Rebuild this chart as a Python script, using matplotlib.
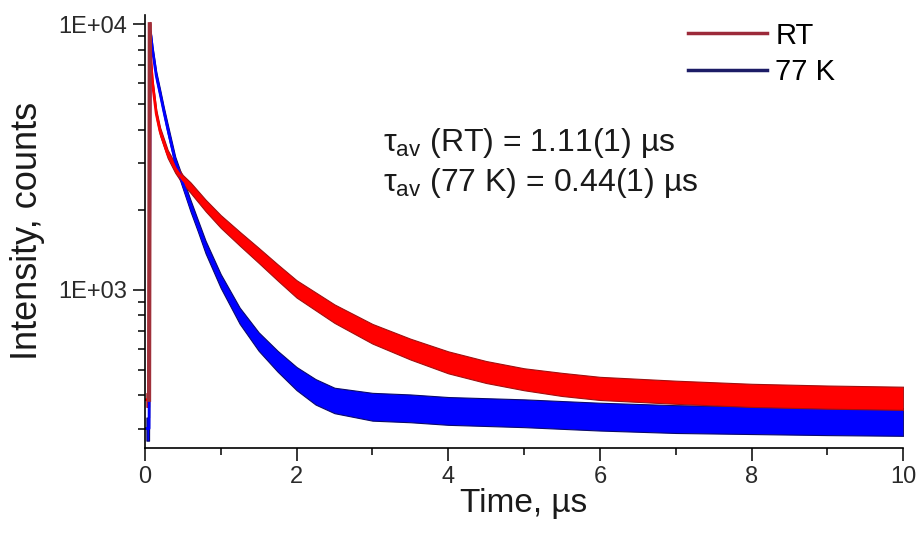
import matplotlib
matplotlib.use("Agg")
import matplotlib.pyplot as plt
from matplotlib.lines import Line2D
from matplotlib.ticker import FixedLocator, FixedFormatter, LogLocator, MultipleLocator, NullFormatter

plt.rcParams["font.family"] = ["Liberation Sans", "DejaVu Sans"]
plt.rcParams["mathtext.fontset"] = "custom"
plt.rcParams["mathtext.rm"] = "Liberation Sans"

# values (time in us, intensity in counts)
t_rt = [0.02, 0.055, 0.065, 0.08, 0.1, 0.15, 0.2, 0.3, 0.4, 0.5, 0.6, 0.8, 1.0,
        1.25, 1.5, 1.75, 2.0, 2.5, 3.0, 3.5, 4.0, 4.5, 5.0, 5.5, 6.0, 7.0, 8.0, 9.0, 10.0]
rt_counts = [385, 385, 10000, 7200, 6000, 4600, 3950, 3250, 2870, 2600, 2430, 2080, 1810,
             1560, 1350, 1165, 1010, 815, 685, 600, 535, 492, 462, 442, 427, 413, 402, 396, 392]
# half-width of the noise band, as a fraction of the counts
rt_spread = [0.06, 0.06, 0.02, 0.04, 0.04, 0.035, 0.035, 0.035, 0.04, 0.04, 0.045, 0.05, 0.055,
             0.06, 0.065, 0.07, 0.075, 0.08, 0.085, 0.09, 0.095, 0.095, 0.095, 0.1, 0.1, 0.1, 0.1, 0.1, 0.1]

t_77k = [0.02, 0.055, 0.07, 0.08, 0.1, 0.15, 0.2, 0.25, 0.3, 0.4, 0.5, 0.6, 0.7, 0.8, 1.0,
         1.25, 1.5, 1.75, 2.0, 2.25, 2.5, 3.0, 3.5, 4.0, 5.0, 6.0, 7.0, 8.0, 9.0, 10.0]
k77_counts = [300, 300, 9300, 9000, 8000, 6400, 5500, 4700, 4050, 3050, 2520, 2080, 1740, 1450, 1080,
              800, 640, 540, 465, 415, 385, 365, 360, 352, 345, 335, 328, 325, 322, 320]
k77_spread = [0.1, 0.1, 0.02, 0.03, 0.035, 0.035, 0.035, 0.035, 0.04, 0.04, 0.045, 0.05, 0.05, 0.055, 0.06,
              0.07, 0.08, 0.09, 0.1, 0.11, 0.11, 0.12, 0.12, 0.12, 0.12, 0.12, 0.12, 0.12, 0.12, 0.12]

fig, ax = plt.subplots(figsize=(9.17, 5.33), dpi=100)
fig.subplots_adjust(left=0.158, right=0.985, bottom=0.16, top=0.972)

series = [
    (t_77k, k77_counts, k77_spread, "#0000ff", "#0a0a6a"),
    (t_rt, rt_counts, rt_spread, "#ff0000", "#a01010"),
]
for t, y, s, face, edge in series:
    low = [v * (1 - f) for v, f in zip(y, s)]
    high = [v * (1 + f) for v, f in zip(y, s)]
    ax.fill_between(t, low, high, facecolor=face, edgecolor=edge, linewidth=0.8)
    ax.plot(t, y, color=face, lw=2.0)
# the rise edge of RT is drawn dark on top
ax.plot(t_rt[1:3], rt_counts[1:3], color="#a0303a", lw=3.0)

ax.set_yscale("log")
ax.set_xlim(0, 10)
ax.set_ylim(254, 10840)

ax.yaxis.set_major_locator(FixedLocator([1e3, 1e4]))
ax.yaxis.set_major_formatter(FixedFormatter(["1E+03", "1E+04"]))
ax.yaxis.set_minor_locator(LogLocator(base=10, subs=range(2, 10)))
ax.yaxis.set_minor_formatter(NullFormatter())
ax.xaxis.set_major_locator(MultipleLocator(2))
ax.xaxis.set_minor_locator(MultipleLocator(1))

for side in ["top", "right"]:
    ax.spines[side].set_visible(False)
for side in ["left", "bottom"]:
    ax.spines[side].set_linewidth(1.2)
ax.tick_params(which="major", direction="out", length=9, width=1.1, labelsize=17,
               labelcolor="#2a2a2a", pad=4)
ax.tick_params(which="minor", direction="out", length=5, width=1.1)

ax.set_xlabel("Time, µs", fontsize=24, labelpad=0, color="#1a1a1a")
ax.set_ylabel("Intensity, counts", fontsize=26, color="#1a1a1a")
ax.yaxis.set_label_coords(-0.132, 0.5)

handles = [Line2D([], [], color="#9c2a3a", lw=2.5), Line2D([], [], color="#1c1c66", lw=2.5)]
ax.legend(handles, ["RT", "77 K"], loc="upper right", bbox_to_anchor=(0.945, 1.045),
          frameon=False, fontsize=21, handlelength=2.7, handletextpad=0.3, labelspacing=0.3)

ax.text(0.418, 0.732, "τ$_{\\mathrm{av}}$ (RT) = 1.11(1) µs", transform=fig.transFigure,
        fontsize=23, va="center", ha="left", color="#1a1a1a")
ax.text(0.418, 0.657, "τ$_{\\mathrm{av}}$ (77 K) = 0.44(1) µs", transform=fig.transFigure,
        fontsize=23, va="center", ha="left", color="#1a1a1a")

fig.savefig("out.png", dpi=100)
